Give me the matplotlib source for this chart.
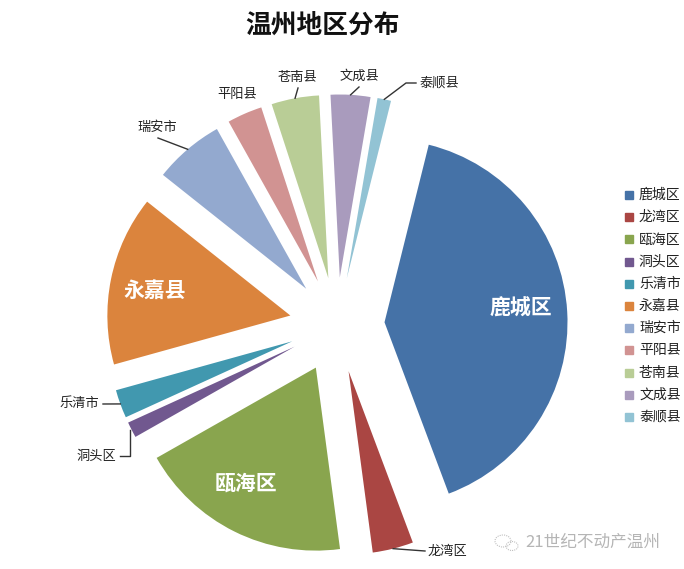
import numpy as np
import matplotlib
matplotlib.use("Agg")
import matplotlib.pyplot as plt
import matplotlib.patches as mpatches

plt.rcParams['font.family'] = ['Noto Sans CJK SC', 'DejaVu Sans']

# share of each district (%), clockwise from the first slice
districts = ['鹿城区', '龙湾区', '瓯海区', '洞头区', '乐清市', '永嘉县',
             '瑞安市', '平阳县', '苍南县', '文成县', '泰顺县']
shares = [40.4, 3.6, 18.9, 1.4, 2.5, 15.0, 6.2, 3.1, 4.2, 3.5, 1.2]
colors = ['#4572A7', '#AA4643', '#89A54E', '#71588F', '#4198AF', '#DB843D',
          '#93A9CF', '#D19392', '#B9CD96', '#A99BBD', '#92C3D4']

W, H = 684, 569
CX, CY, R = 337, 325, 183   # pie centre and radius in pixels (y from top)
EXPLODE = 0.26


def px(x, y):
    """pixel position (y from top) -> data coords"""
    return (x - CX) / R, (CY - y) / R


fig = plt.figure(figsize=(W / 100, H / 100), dpi=100)
ax = fig.add_axes([0, 0, 1, 1])
wedges, _ = ax.pie(shares, colors=colors, startangle=76, counterclock=False,
                   explode=[EXPLODE] * len(shares),
                   wedgeprops=dict(linewidth=0))
ax.set_xlim(-CX / R, (W - CX) / R)
ax.set_ylim(-(H - CY) / R, CY / R)
ax.axis('off')


def arc_point(i):
    w = wedges[i]
    ang = np.deg2rad((w.theta1 + w.theta2) / 2)
    cx, cy = w.center
    return cx + w.r * np.cos(ang), cy + w.r * np.sin(ang)


# labels inside the big slices
inside = {'鹿城区': (521, 308), '永嘉县': (155, 290), '瓯海区': (246, 483)}
for name, (x, y) in inside.items():
    ax.text(*px(x, y), name, color='white', fontsize=15, fontweight='bold',
            ha='center', va='center')

# labels outside with leader lines: text pos, alignment, extra line points
outside = {
    '瑞安市': ((157, 128), 'center', [(158, 138)]),
    '平阳县': ((237, 94), 'center', []),
    '苍南县': ((297, 77), 'center', [(298, 88)]),
    '文成县': ((359, 76), 'center', [(359, 87)]),
    '泰顺县': ((420, 83), 'left', [(406, 83), (416, 83)]),
    '乐清市': ((99, 404), 'right', [(103, 404)]),
    '洞头区': ((116, 456), 'right', [(130, 456), (120, 456)]),
    '龙湾区': ((428, 551), 'left', [(425, 551)]),
}
for name, ((tx, ty), ha, pts) in outside.items():
    i = districts.index(name)
    if pts:
        sx, sy = arc_point(i)
        if name == '洞头区':
            sx = px(130, 0)[0]
        line = [(sx, sy)] + [px(*p) for p in pts]
        ax.plot([p[0] for p in line], [p[1] for p in line],
                color='#333333', lw=1)
    ax.text(*px(tx, ty), name, fontsize=9.5, color='#222222',
            ha=ha, va='center')

# title
fig.text(322 / W, 1 - 25 / H, '温州地区分布', fontsize=18.5, fontweight='bold',
         ha='center', va='center', color='#111111')

# legend
for k, (name, c) in enumerate(zip(districts, colors)):
    y = 195 + k * 22.2
    fig.patches.append(mpatches.Rectangle(((625) / W, 1 - (y + 4) / H),
                                          8 / W, 8 / H, color=c,
                                          transform=fig.transFigure))
    fig.text(639 / W, 1 - y / H, name, fontsize=10, color='#222222',
             ha='left', va='center')

# watermark
for (ex, ey, ew, eh) in [(503, 541, 16, 12), (512, 546, 12, 9)]:
    fig.patches.append(mpatches.Ellipse((ex / W, 1 - ey / H), ew / W, eh / H,
                                        fill=False, ec='#c0c0c0', lw=0.8,
                                        ls=(0, (1, 1)),
                                        transform=fig.transFigure))
fig.text(525 / W, 1 - 542 / H, '21世纪不动产温州', fontsize=12,
         color='#b5b5b5', ha='left', va='center')

fig.savefig('out.png', dpi=100, facecolor='white')
